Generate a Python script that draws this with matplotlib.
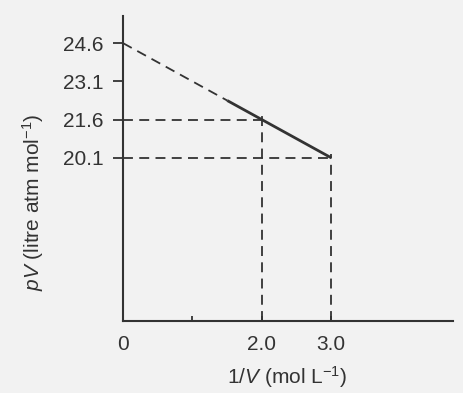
import matplotlib
matplotlib.use("Agg")
import matplotlib.pyplot as plt

plt.rcParams.update({'font.family': 'Liberation Sans', 'font.size': 15,
                     'mathtext.fontset': 'custom',
                     'mathtext.rm': 'Liberation Sans',
                     'mathtext.it': 'Liberation Sans:italic'})

# --- data ---
inv_v_extrap = [0.0, 1.5]          # extrapolated part (dashed)
pv_extrap = [24.6, 22.35]
inv_v_meas = [1.5, 2.0, 3.0]       # measured part (solid)
pv_meas = [22.35, 21.6, 20.1]
guide_x = [2.0, 3.0]
guide_y = [21.6, 20.1]
yticks = [20.1, 21.6, 23.1, 24.6]
xticks = [0, 1, 2, 3]
xticklabels = ['0', '', '2.0', '3.0']

INK = '#333333'
BG = '#f2f2f2'
XMIN, XMAX = 0, 4.75
YMIN, YMAX = 13.7, 25.66

fig = plt.figure(figsize=(4.63, 3.93), dpi=100, facecolor=BG)
ax = fig.add_axes([0.2657, 0.1832, 0.978 - 0.2657, 0.959 - 0.1832])
ax.set_facecolor(BG)

dash = (0, (5.5, 3.5))
ax.plot(inv_v_extrap, pv_extrap, color=INK, lw=1.3, linestyle=dash)
ax.plot(inv_v_meas, pv_meas, color=INK, lw=2.0, solid_capstyle='butt')

# guide lines to the axes
for gx, gy in zip(guide_x, guide_y):
    ax.plot([XMIN, gx], [gy, gy], color=INK, lw=1.3, linestyle=dash)
    ax.plot([gx, gx], [YMIN, gy + 0.15], color=INK, lw=1.3, linestyle=dash)

ax.set_xlim(XMIN, XMAX)
ax.set_ylim(YMIN, YMAX)

for s in ['top', 'right']:
    ax.spines[s].set_visible(False)
for s in ['left', 'bottom']:
    ax.spines[s].set_color(INK)
    ax.spines[s].set_linewidth(1.5)

ax.set_yticks(yticks)
ax.set_yticklabels([f'{v:.1f}' for v in yticks])
ax.set_xticks(xticks)
ax.set_xticklabels(xticklabels)
ax.tick_params(axis='y', direction='out', length=7, width=1.3, pad=7,
               colors=INK, labelsize=15)
ax.tick_params(axis='x', direction='in', length=3.5, width=1.3, pad=10,
               colors=INK, labelsize=15)

fig.text(0.071, 0.486, r'$pV$ (litre atm mol$^{-1}$)', rotation=90,
         ha='center', va='center', color=INK, fontsize=15)
fig.text(0.62, 0.041, r'1/$V$ (mol L$^{-1}$)', ha='center', va='center',
         color=INK, fontsize=15)

fig.savefig('out.png', dpi=100, facecolor=BG)
